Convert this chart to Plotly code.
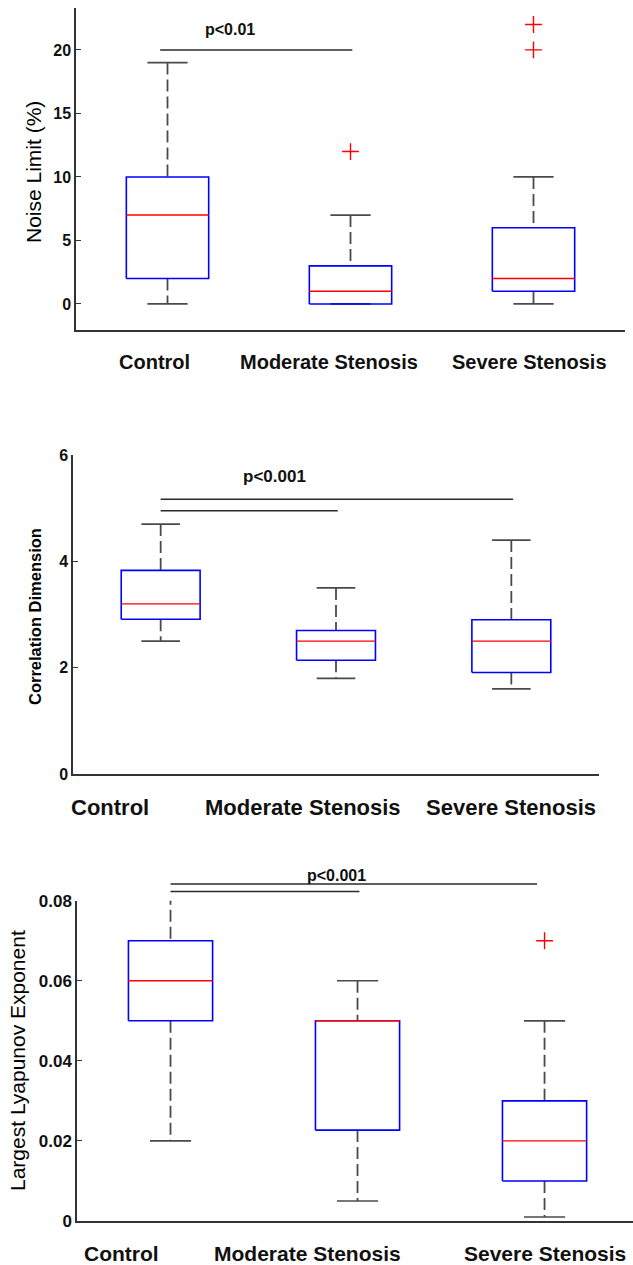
import plotly.graph_objects as go

# ---------------- data ----------------
categories = ["Control", "Moderate Stenosis", "Severe Stenosis"]
cat_pos = [1, 2, 3]

# Panel 1: Noise Limit (%)
noise_lower = [0, 0, 0]
noise_q1 = [2, 0, 1]
noise_median = [7, 1, 2]
noise_q3 = [10, 3, 6]
noise_upper = [19, 7, 10]
noise_outliers = [[], [12], [20, 22]]
noise_sig_from = [0.96]
noise_sig_to = [2.01]
noise_sig_y = [20]
noise_sig_text = "p<0.01"
noise_sig_text_xy = (1.34, 21.6)

# Panel 2: Correlation Dimension
cd_lower = [2.5, 1.8, 1.6]
cd_q1 = [2.91, 2.14, 1.91]
cd_median = [3.2, 2.5, 2.5]
cd_q3 = [3.83, 2.7, 2.9]
cd_upper = [4.7, 3.5, 4.4]
cd_outliers = [[], [], []]
cd_sig_from = [1.0, 1.0]
cd_sig_to = [3.01, 2.01]
cd_sig_y = [5.17, 4.95]
cd_sig_text = "p<0.001"
cd_sig_text_xy = (1.65, 5.59)

# Panel 3: Largest Lyapunov Exponent
lle_lower = [0.02, 0.005, 0.001]
lle_q1 = [0.05, 0.0227, 0.01]
lle_median = [0.06, 0.05, 0.02]
lle_q3 = [0.07, 0.05, 0.03]
lle_upper = [0.082, 0.06, 0.05]
lle_outliers = [[], [], [0.07]]
lle_sig_from = [1.0, 1.0]
lle_sig_to = [2.96, 2.01]
lle_sig_y = [0.0842, 0.0823]
lle_sig_text = "p<0.001"
lle_sig_text_xy = (1.89, 0.0864)

# ---------------- style / layout ----------------
BOX_HALF = 0.225
CAP_HALF = 0.11
AX_COL = "#333333"
WHISK_COL = "#4a4a4a"
TXT_COL = "#111111"
FONT = "Liberation Sans, Arial, sans-serif"

panels = [
    dict(lower=noise_lower, q1=noise_q1, med=noise_median, q3=noise_q3, upper=noise_upper,
         out=noise_outliers, sf=noise_sig_from, st=noise_sig_to, sy=noise_sig_y,
         stext=noise_sig_text, sxy=noise_sig_text_xy,
         xdom=[76/633, 625/633], ydom=[1-330/1265, 1-8/1265], xr=[0.5, 3.5], yr=[-2.05, 23.3],
         dtick=5, ytitle="Noise Limit (%)", ytitle_xy=(33/633, 1-172/1265),
         ytitle_size=21, ytitle_bold=False, ticksize=16,
         label_x=[0.93, 1.88, 2.98], label_y=1-362/1265, label_size=20, sig_size=16),
    dict(lower=cd_lower, q1=cd_q1, med=cd_median, q3=cd_q3, upper=cd_upper,
         out=cd_outliers, sf=cd_sig_from, st=cd_sig_to, sy=cd_sig_y,
         stext=cd_sig_text, sxy=cd_sig_text_xy,
         xdom=[73/633, 599/633], ydom=[1-774/1265, 1-455/1265], xr=[0.5, 3.5], yr=[0, 6],
         dtick=2, ytitle="Correlation Dimension", ytitle_xy=(35/633, 1-617/1265),
         ytitle_size=16.5, ytitle_bold=True, ticksize=16,
         label_x=[0.71, 1.81, 3.0], label_y=1-807/1265, label_size=22, sig_size=17),
    dict(lower=lle_lower, q1=lle_q1, med=lle_median, q3=lle_q3, upper=lle_upper,
         out=lle_outliers, sf=lle_sig_from, st=lle_sig_to, sy=lle_sig_y,
         stext=lle_sig_text, sxy=lle_sig_text_xy,
         xdom=[77/633, 1.0], ydom=[1-1221/1265, 1-900.7/1265], xr=[0.5, 3.473], yr=[0, 0.08],
         dtick=0.02, ytitle="Largest Lyapunov Exponent", ytitle_xy=(17/633, 1-1061/1265),
         ytitle_size=21, ytitle_bold=False, ticksize=17,
         label_x=[0.74, 1.735, 3.0], label_y=1-1253/1265, label_size=21, sig_size=16),
]


def px(v, p):
    d0, d1 = p["xdom"]
    r0, r1 = p["xr"]
    return d0 + (v - r0) / (r1 - r0) * (d1 - d0)


def py(v, p):
    d0, d1 = p["ydom"]
    r0, r1 = p["yr"]
    return d0 + (v - r0) / (r1 - r0) * (d1 - d0)


fig = go.Figure()
annotations = []
shapes = []
layout_axes = {}

for i, p in enumerate(panels):
    n = "" if i == 0 else str(i + 1)
    xa, ya = "x" + n, "y" + n

    # whiskers (dashed)
    wx, wy = [], []
    for c, lo, q1, q3, up in zip(cat_pos, p["lower"], p["q1"], p["q3"], p["upper"]):
        wx += [c, c, None, c, c, None]
        wy += [up, q3, None, q1, lo, None]
    fig.add_trace(go.Scatter(x=wx, y=wy, mode="lines", xaxis=xa, yaxis=ya,
                             line=dict(color=WHISK_COL, width=1.8, dash="12px,5px"),
                             hoverinfo="skip", showlegend=False))
    # caps
    cx, cy = [], []
    for c, lo, up in zip(cat_pos, p["lower"], p["upper"]):
        cx += [c - CAP_HALF, c + CAP_HALF, None, c - CAP_HALF, c + CAP_HALF, None]
        cy += [up, up, None, lo, lo, None]
    fig.add_trace(go.Scatter(x=cx, y=cy, mode="lines", xaxis=xa, yaxis=ya,
                             line=dict(color=WHISK_COL, width=1.7),
                             hoverinfo="skip", showlegend=False))
    # boxes
    bx, by = [], []
    for c, q1, q3 in zip(cat_pos, p["q1"], p["q3"]):
        bx += [c - BOX_HALF, c + BOX_HALF, c + BOX_HALF, c - BOX_HALF, c - BOX_HALF, None]
        by += [q1, q1, q3, q3, q1, None]
    fig.add_trace(go.Scatter(x=bx, y=by, mode="lines", xaxis=xa, yaxis=ya,
                             line=dict(color="#0000FF", width=1.6),
                             hoverinfo="skip", showlegend=False))
    # medians
    mx, my = [], []
    for c, m in zip(cat_pos, p["med"]):
        mx += [c - BOX_HALF, c + BOX_HALF, None]
        my += [m, m, None]
    fig.add_trace(go.Scatter(x=mx, y=my, mode="lines", xaxis=xa, yaxis=ya,
                             line=dict(color="#FF0000", width=1.4),
                             hoverinfo="skip", showlegend=False))
    # outliers
    ox, oy = [], []
    for c, outs in zip(cat_pos, p["out"]):
        for v in outs:
            ox.append(c)
            oy.append(v)
    if ox:
        fig.add_trace(go.Scatter(x=ox, y=oy, mode="markers", xaxis=xa, yaxis=ya,
                                 marker=dict(symbol="cross-thin", size=12,
                                             line=dict(color="#FF0000", width=1.4)),
                                 cliponaxis=False, hoverinfo="skip", showlegend=False))
    # significance lines (paper coordinates mapped from data, so they can sit above the axis)
    for a, b, y in zip(p["sf"], p["st"], p["sy"]):
        shapes.append(dict(type="line", xref="paper", yref="paper",
                           x0=px(a, p), x1=px(b, p), y0=py(y, p), y1=py(y, p),
                           line=dict(color="#2a2a2a", width=1.5)))
    annotations.append(dict(x=px(p["sxy"][0], p), y=py(p["sxy"][1], p), xref="paper", yref="paper",
                            text=p["stext"], showarrow=False, xanchor="center", yanchor="middle",
                            font=dict(family=FONT, size=p["sig_size"], color=TXT_COL, weight="bold")))

    # category labels
    for lx, lab in zip(p["label_x"], categories):
        annotations.append(dict(x=px(lx, p), y=p["label_y"], xref="paper", yref="paper",
                                text=lab, showarrow=False, xanchor="center", yanchor="middle",
                                font=dict(family=FONT, size=p["label_size"], color=TXT_COL, weight="bold")))
    # y title
    annotations.append(dict(x=p["ytitle_xy"][0], y=p["ytitle_xy"][1], xref="paper", yref="paper",
                            text=p["ytitle"], showarrow=False, textangle=-90,
                            xanchor="center", yanchor="middle",
                            font=dict(family=FONT, size=p["ytitle_size"], color="#000000",
                                      weight="bold" if p["ytitle_bold"] else "normal")))

    layout_axes["xaxis" + n] = dict(domain=p["xdom"], range=p["xr"], anchor=ya,
                                    showline=True, linecolor=AX_COL, linewidth=1.5,
                                    showgrid=False, zeroline=False, ticks="",
                                    showticklabels=False, fixedrange=True, automargin=False)
    layout_axes["yaxis" + n] = dict(domain=p["ydom"], range=p["yr"], anchor=xa,
                                    showline=True, linecolor=AX_COL, linewidth=1.5,
                                    showgrid=False, zeroline=False,
                                    ticks="inside", ticklen=5, tickwidth=1.3, tickcolor=AX_COL,
                                    tick0=0, dtick=p["dtick"],
                                    tickfont=dict(family=FONT, size=p["ticksize"],
                                                  color=TXT_COL, weight="bold"),
                                    fixedrange=True, automargin=False)

fig.update_layout(
    width=633, height=1265,
    margin=dict(l=0, r=0, t=0, b=0, pad=0),
    paper_bgcolor="white", plot_bgcolor="white",
    showlegend=False,
    annotations=annotations,
    shapes=shapes,
    **layout_axes,
)

fig.write_html("out.html")
